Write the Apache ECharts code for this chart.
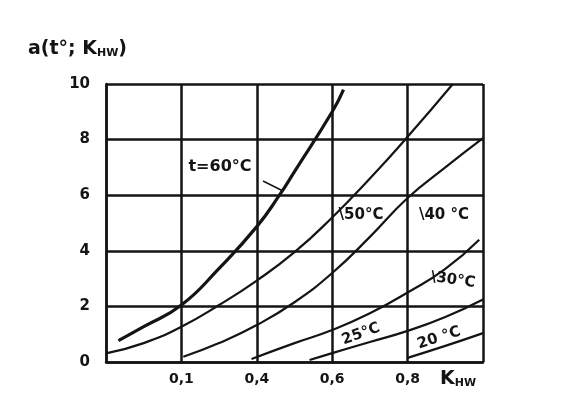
<!DOCTYPE html>
<html>
<head>
<meta charset="utf-8">
<script src="https://cdn.jsdelivr.net/npm/echarts@6/dist/echarts.min.js"></script>
<style>
  html, body { margin: 0; padding: 0; background: #fff; }
  #chart { width: 563px; height: 397px; }
</style>
</head>
<body>
<div id="chart"></div>
<script>
// x tick labels as written on the sheet (first one reads "0,1")
const xTickLabels = ['', '0,1', '0,4', '0,6', '0,8', ''];
const yTickLabels = ['0', '2', '4', '6', '8', '10'];

// K_HW values and a(t, K_HW)
const k60 = [0.033, 0.1, 0.2, 0.3, 0.4, 0.46, 0.5, 0.6, 0.63];
const a60 = [0.77, 1.27, 2.05, 3.37, 4.87, 6.0, 6.85, 9.0, 9.8];

const k50 = [0.0, 0.1, 0.2, 0.3, 0.4, 0.5, 0.6, 0.7, 0.8, 0.92];
const a50 = [0.31, 0.68, 1.27, 2.05, 2.93, 3.95, 5.2, 6.6, 8.1, 10.0];

const k40 = [0.205, 0.3, 0.4, 0.5, 0.6, 0.7, 0.8, 0.9, 1.0];
const a40 = [0.19, 0.68, 1.33, 2.15, 3.2, 4.5, 5.9, 7.0, 8.05];

const k30 = [0.386, 0.5, 0.6, 0.7, 0.8, 0.9, 0.99];
const a30 = [0.11, 0.68, 1.15, 1.75, 2.5, 3.35, 4.4];

const k25 = [0.54, 0.6, 0.7, 0.8, 0.9, 1.0];
const a25 = [0.07, 0.32, 0.72, 1.12, 1.62, 2.25];

const k20 = [0.8, 0.9, 1.0];
const a20 = [0.15, 0.58, 1.04];

const ink = '#141414';
const handFont = 'DejaVu Sans';

function zip(xs, ys) {
    return xs.map((x, i) => [x, ys[i]]);
}

function curve(name, xs, ys, width) {
    return {
        name: name,
        type: 'line',
        smooth: 0.5,
        symbol: 'none',
        data: zip(xs, ys),
        lineStyle: { color: ink, width: width },
        z: 3
    };
}

// hand-written curve labels, centred on (x, y)
function note(text, x, y, rotation, size) {
    return {
        type: 'text',
        x: x,
        y: y,
        rotation: (rotation || 0) * Math.PI / 180,
        z: 10,
        style: {
            text: text,
            font: 'bold ' + (size || 15) + 'px ' + handFont,
            fill: ink,
            align: 'center',
            verticalAlign: 'middle'
        }
    };
}

const chart = echarts.init(document.getElementById('chart'));

chart.setOption({
    backgroundColor: '#fff',
    animation: false,
    grid: { left: 106, right: 80, top: 84, bottom: 35 },
    xAxis: {
        type: 'value',
        min: 0,
        max: 1,
        interval: 0.2,
        axisLine: { show: true, lineStyle: { color: ink, width: 2.5 } },
        axisTick: { show: false },
        splitLine: { show: true, lineStyle: { color: ink, width: 2.5 } },
        axisLabel: {
            color: ink,
            fontFamily: handFont,
            fontWeight: 'bold',
            fontSize: 14,
            margin: 10,
            formatter: (v) => xTickLabels[Math.round(v / 0.2)]
        }
    },
    yAxis: {
        type: 'value',
        min: 0,
        max: 10,
        interval: 2,
        axisLine: { show: true, lineStyle: { color: ink, width: 2.5 } },
        axisTick: { show: false },
        splitLine: { show: true, lineStyle: { color: ink, width: 2.5 } },
        axisLabel: {
            color: ink,
            fontFamily: handFont,
            fontWeight: 'bold',
            fontSize: 15,
            margin: 16,
            formatter: (v) => yTickLabels[Math.round(v / 2)]
        }
    },
    series: [
        curve('60', k60, a60, 3.2),
        curve('50', k50, a50, 2.2),
        curve('40', k40, a40, 2.2),
        curve('30', k30, a30, 2.2),
        curve('25', k25, a25, 2.2),
        curve('20', k20, a20, 2.2)
    ],
    graphic: [
        {
            type: 'text',
            left: 28,
            top: 40,
            style: {
                text: '{b|a(t°; K}{s|HW}{b|)}',
                rich: {
                    b: { font: 'bold 19px ' + handFont, fill: ink },
                    s: { font: 'bold 11px ' + handFont, fill: ink, padding: [8, 0, 0, 0] }
                }
            }
        },
        {
            type: 'text',
            left: 440,
            top: 370,
            style: {
                text: '{b|K}{s|HW}',
                rich: {
                    b: { font: 'bold 19px ' + handFont, fill: ink },
                    s: { font: 'bold 11px ' + handFont, fill: ink, padding: [8, 0, 0, 0] }
                }
            }
        },
        note('t=60°C', 220, 167, 0, 16),
        {
            type: 'line',
            shape: { x1: 263, y1: 181, x2: 283, y2: 191 },
            style: { stroke: ink, lineWidth: 1.5 }
        },
        note('\\50°C', 361, 215),
        note('\\40 °C', 444, 215),
        note('\\30°C', 453, 280, -8),
        note('25°C', 361, 334, 20),
        note('20 °C', 439, 338, 18)
    ]
});
</script>
</body>
</html>
